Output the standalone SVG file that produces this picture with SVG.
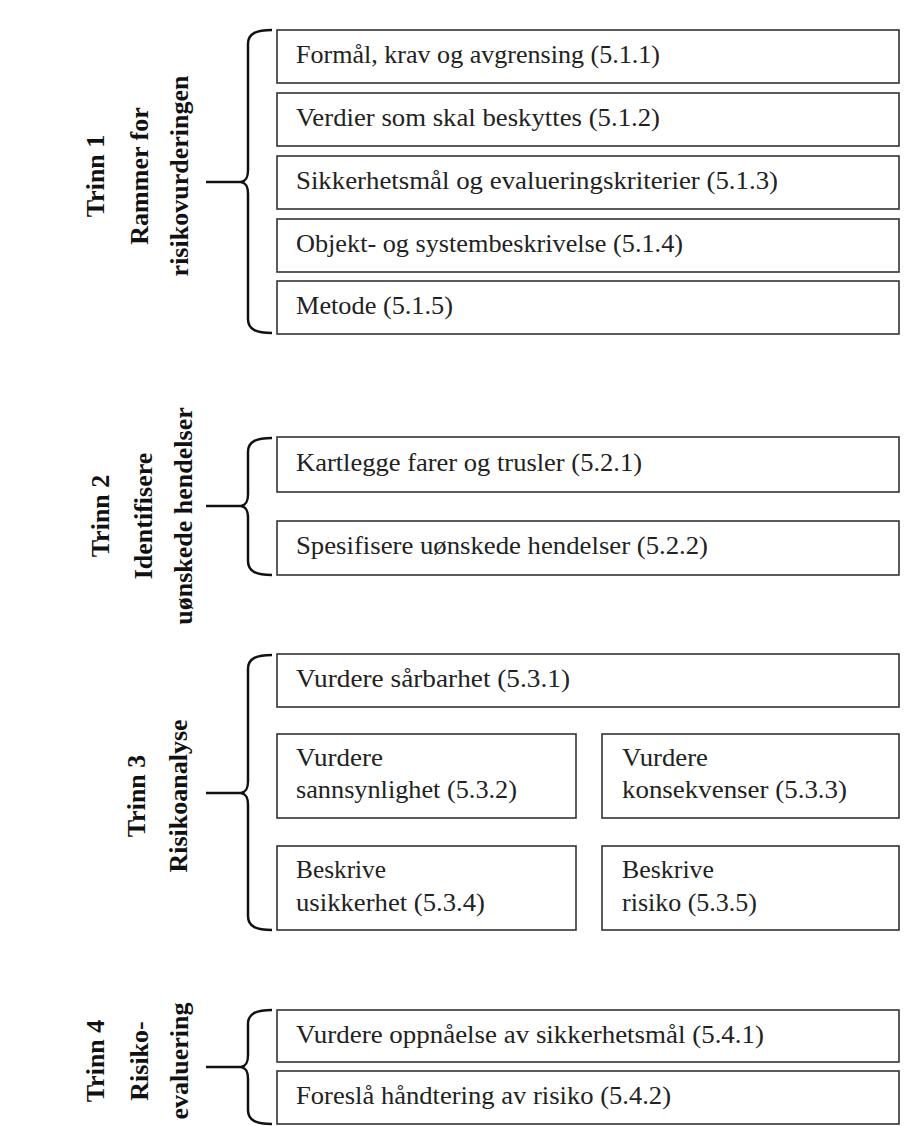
<svg xmlns="http://www.w3.org/2000/svg" width="920" height="1126" viewBox="0 0 920 1126">
  <style>
    .box { fill: #ffffff; stroke: #333333; stroke-width: 1.6; }
    .txt { font-family: "Liberation Serif", "Times New Roman", serif; font-size: 26px; fill: #222222; }
    .lbl { font-family: "Liberation Serif", "Times New Roman", serif; font-size: 26px; font-weight: bold; fill: #111111; text-anchor: middle; }
    .brace { fill: none; stroke: #111111; stroke-width: 2.5; stroke-linecap: butt; }
  </style>
  <rect x="0" y="0" width="920" height="1126" fill="#ffffff"/>

  <!-- Stage labels (rotated) -->
  <g id="trinn1-label">
    <text class="lbl" transform="translate(103.5,176) rotate(-90)">Trinn 1</text>
    <text class="lbl" transform="translate(148,176) rotate(-90)">Rammer for</text>
    <text class="lbl" transform="translate(188,176) rotate(-90)">risikovurderingen</text>
  </g>
  <g id="trinn2-label">
    <text class="lbl" transform="translate(109,516) rotate(-90)">Trinn 2</text>
    <text class="lbl" transform="translate(152,516) rotate(-90)">Identifisere</text>
    <text class="lbl" transform="translate(192,516) rotate(-90)">uønskede hendelser</text>
  </g>
  <g id="trinn3-label">
    <text class="lbl" transform="translate(145,796) rotate(-90)">Trinn 3</text>
    <text class="lbl" transform="translate(187,796) rotate(-90)">Risikoanalyse</text>
  </g>
  <g id="trinn4-label">
    <text class="lbl" transform="translate(103.5,1061) rotate(-90)">Trinn 4</text>
    <text class="lbl" transform="translate(148,1061) rotate(-90)">Risiko-</text>
    <text class="lbl" transform="translate(188,1061) rotate(-90)">evaluering</text>
  </g>

  <!-- Braces joining each stage label to its steps -->
  <g id="connectors">
    <path class="brace" d="M272,30 C257,30 248,33 248,44 L248,170 C248,178 246,181 241,182 C246,183 248,186 248,194 L248,319 C248,330 257,333 272,333 M206,182 H241"/>
    <path class="brace" d="M272,438 C257,438 248,441 248,452 L248,494 C248,502 246,505 241,506 C246,507 248,510 248,518 L248,561 C248,572 257,575 272,575 M206,506 H241"/>
    <path class="brace" d="M272,655 C257,655 248,658 248,669 L248,781 C248,789 246,792 241,793 C246,794 248,797 248,805 L248,916 C248,927 257,930 272,930 M206,793 H241"/>
    <path class="brace" d="M272,1010 C257,1010 248,1013 248,1024 L248,1055 C248,1063 246,1066 241,1067 C246,1068 248,1071 248,1079 L248,1110 C248,1121 257,1124 272,1124 M206,1067 H241"/>
  </g>

  <!-- Trinn 1 steps -->
  <g id="s511"><rect class="box" x="277" y="30" width="622" height="53"/><text class="txt" x="296" y="63" textLength="364" lengthAdjust="spacingAndGlyphs">Formål, krav og avgrensing (5.1.1)</text></g>
  <g id="s512"><rect class="box" x="277" y="93" width="622" height="53"/><text class="txt" x="296" y="126" textLength="364" lengthAdjust="spacingAndGlyphs">Verdier som skal beskyttes (5.1.2)</text></g>
  <g id="s513"><rect class="box" x="277" y="156" width="622" height="53"/><text class="txt" x="296" y="189" textLength="482" lengthAdjust="spacingAndGlyphs">Sikkerhetsmål og evalueringskriterier (5.1.3)</text></g>
  <g id="s514"><rect class="box" x="277" y="219" width="622" height="53"/><text class="txt" x="296" y="252" textLength="387" lengthAdjust="spacingAndGlyphs">Objekt- og systembeskrivelse (5.1.4)</text></g>
  <g id="s515"><rect class="box" x="277" y="281" width="622" height="53"/><text class="txt" x="296" y="314" textLength="157" lengthAdjust="spacingAndGlyphs">Metode (5.1.5)</text></g>

  <!-- Trinn 2 steps -->
  <g id="s521"><rect class="box" x="277" y="437" width="622" height="55"/><text class="txt" x="296" y="471" textLength="346" lengthAdjust="spacingAndGlyphs">Kartlegge farer og trusler (5.2.1)</text></g>
  <g id="s522"><rect class="box" x="277" y="521" width="622" height="54"/><text class="txt" x="296" y="554" textLength="412" lengthAdjust="spacingAndGlyphs">Spesifisere uønskede hendelser (5.2.2)</text></g>

  <!-- Trinn 3 steps -->
  <g id="s531"><rect class="box" x="277" y="654" width="622" height="53"/><text class="txt" x="296" y="687" textLength="274" lengthAdjust="spacingAndGlyphs">Vurdere sårbarhet (5.3.1)</text></g>
  <g id="s532"><rect class="box" x="277" y="734" width="299" height="84"/>
    <text class="txt" x="296" y="766" textLength="87" lengthAdjust="spacingAndGlyphs">Vurdere</text>
    <text class="txt" x="296" y="798" textLength="221" lengthAdjust="spacingAndGlyphs">sannsynlighet (5.3.2)</text></g>
  <g id="s533"><rect class="box" x="602" y="734" width="297" height="84"/>
    <text class="txt" x="622" y="766" textLength="86" lengthAdjust="spacingAndGlyphs">Vurdere</text>
    <text class="txt" x="622" y="798" textLength="225" lengthAdjust="spacingAndGlyphs">konsekvenser (5.3.3)</text></g>
  <g id="s534"><rect class="box" x="277" y="846" width="299" height="84"/>
    <text class="txt" x="296" y="878" textLength="90" lengthAdjust="spacingAndGlyphs">Beskrive</text>
    <text class="txt" x="296" y="911" textLength="189" lengthAdjust="spacingAndGlyphs">usikkerhet (5.3.4)</text></g>
  <g id="s535"><rect class="box" x="602" y="846" width="297" height="84"/>
    <text class="txt" x="622" y="878" textLength="92" lengthAdjust="spacingAndGlyphs">Beskrive</text>
    <text class="txt" x="622" y="911" textLength="135" lengthAdjust="spacingAndGlyphs">risiko (5.3.5)</text></g>

  <!-- Trinn 4 steps -->
  <g id="s541"><rect class="box" x="277" y="1010" width="622" height="52"/><text class="txt" x="296" y="1043" textLength="468" lengthAdjust="spacingAndGlyphs">Vurdere oppnåelse av sikkerhetsmål (5.4.1)</text></g>
  <g id="s542"><rect class="box" x="277" y="1071" width="622" height="53"/><text class="txt" x="296" y="1104" textLength="375" lengthAdjust="spacingAndGlyphs">Foreslå håndtering av risiko (5.4.2)</text></g>
</svg>
